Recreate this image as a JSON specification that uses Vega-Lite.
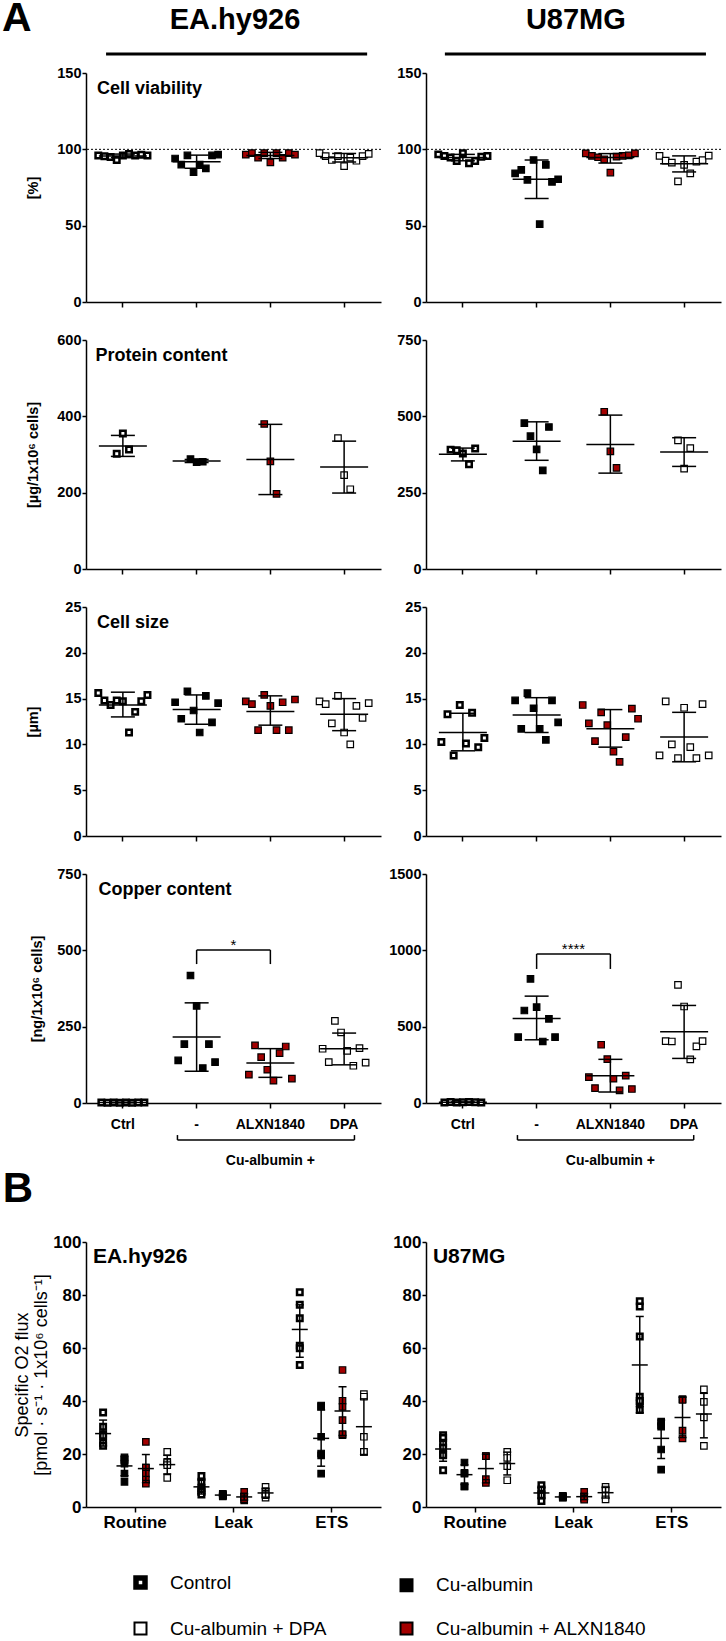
{
"$schema": "https://vega.github.io/schema/vega-lite/v6.json",
"padding": {"left": 2, "top": -2, "right": 1, "bottom": 0},
"bounds": "flush",
"columns": 2,
"spacing": {"row": 38, "column": 45},
"resolve": {"scale": {"fill": "independent"}, "legend": {"fill": "independent"}},
"datasets": {
"A": [
{"c":"EA","p":"via","t":"Ctrl","v":96},{"c":"EA","p":"via","t":"Ctrl","v":95.5},{"c":"EA","p":"via","t":"Ctrl","v":95},{"c":"EA","p":"via","t":"Ctrl","v":93},{"c":"EA","p":"via","t":"Ctrl","v":96},{"c":"EA","p":"via","t":"Ctrl","v":97},{"c":"EA","p":"via","t":"Ctrl","v":96},{"c":"EA","p":"via","t":"Ctrl","v":96.5},{"c":"EA","p":"via","t":"Ctrl","v":96},
{"c":"EA","p":"via","t":"Cu","v":94},{"c":"EA","p":"via","t":"Cu","v":90},{"c":"EA","p":"via","t":"Cu","v":96},{"c":"EA","p":"via","t":"Cu","v":85},{"c":"EA","p":"via","t":"Cu","v":90},{"c":"EA","p":"via","t":"Cu","v":87.5},{"c":"EA","p":"via","t":"Cu","v":96},{"c":"EA","p":"via","t":"Cu","v":96.5},
{"c":"EA","p":"via","t":"ALXN","v":96.5},{"c":"EA","p":"via","t":"ALXN","v":97.5},{"c":"EA","p":"via","t":"ALXN","v":94.5},{"c":"EA","p":"via","t":"ALXN","v":97.5},{"c":"EA","p":"via","t":"ALXN","v":91.5},{"c":"EA","p":"via","t":"ALXN","v":97.5},{"c":"EA","p":"via","t":"ALXN","v":94.5},{"c":"EA","p":"via","t":"ALXN","v":97.5},{"c":"EA","p":"via","t":"ALXN","v":96.5},
{"c":"EA","p":"via","t":"DPA","v":97.5},{"c":"EA","p":"via","t":"DPA","v":95.5},{"c":"EA","p":"via","t":"DPA","v":93},{"c":"EA","p":"via","t":"DPA","v":95.5},{"c":"EA","p":"via","t":"DPA","v":89},{"c":"EA","p":"via","t":"DPA","v":94.5},{"c":"EA","p":"via","t":"DPA","v":92.5},{"c":"EA","p":"via","t":"DPA","v":95.5},{"c":"EA","p":"via","t":"DPA","v":97},
{"c":"U87","p":"via","t":"Ctrl","v":96.7},{"c":"U87","p":"via","t":"Ctrl","v":95.7},{"c":"U87","p":"via","t":"Ctrl","v":94.6},{"c":"U87","p":"via","t":"Ctrl","v":92.4},{"c":"U87","p":"via","t":"Ctrl","v":97.4},{"c":"U87","p":"via","t":"Ctrl","v":90.9},{"c":"U87","p":"via","t":"Ctrl","v":92.4},{"c":"U87","p":"via","t":"Ctrl","v":95.2},{"c":"U87","p":"via","t":"Ctrl","v":95.7},
{"c":"U87","p":"via","t":"Cu","v":84.3},{"c":"U87","p":"via","t":"Cu","v":86.5},{"c":"U87","p":"via","t":"Cu","v":80},{"c":"U87","p":"via","t":"Cu","v":93},{"c":"U87","p":"via","t":"Cu","v":51},{"c":"U87","p":"via","t":"Cu","v":89.8},{"c":"U87","p":"via","t":"Cu","v":78.7},{"c":"U87","p":"via","t":"Cu","v":80.4},
{"c":"U87","p":"via","t":"ALXN","v":97.4},{"c":"U87","p":"via","t":"ALXN","v":95.7},{"c":"U87","p":"via","t":"ALXN","v":94.8},{"c":"U87","p":"via","t":"ALXN","v":93.5},{"c":"U87","p":"via","t":"ALXN","v":84.8},{"c":"U87","p":"via","t":"ALXN","v":95.2},{"c":"U87","p":"via","t":"ALXN","v":95.7},{"c":"U87","p":"via","t":"ALXN","v":96},{"c":"U87","p":"via","t":"ALXN","v":97.4},
{"c":"U87","p":"via","t":"DPA","v":95.7},{"c":"U87","p":"via","t":"DPA","v":92.6},{"c":"U87","p":"via","t":"DPA","v":91.3},{"c":"U87","p":"via","t":"DPA","v":79},{"c":"U87","p":"via","t":"DPA","v":89.8},{"c":"U87","p":"via","t":"DPA","v":84.3},{"c":"U87","p":"via","t":"DPA","v":92},{"c":"U87","p":"via","t":"DPA","v":93},{"c":"U87","p":"via","t":"DPA","v":95.9},
{"c":"EA","p":"pro","t":"Ctrl","v":302},{"c":"EA","p":"pro","t":"Ctrl","v":355},{"c":"EA","p":"pro","t":"Ctrl","v":313},
{"c":"EA","p":"pro","t":"Cu","v":288},{"c":"EA","p":"pro","t":"Cu","v":280},{"c":"EA","p":"pro","t":"Cu","v":281},
{"c":"EA","p":"pro","t":"ALXN","v":380},{"c":"EA","p":"pro","t":"ALXN","v":282},{"c":"EA","p":"pro","t":"ALXN","v":197},
{"c":"EA","p":"pro","t":"DPA","v":343},{"c":"EA","p":"pro","t":"DPA","v":246},{"c":"EA","p":"pro","t":"DPA","v":209},
{"c":"U87","p":"pro","t":"Ctrl","v":391},{"c":"U87","p":"pro","t":"Ctrl","v":389},{"c":"U87","p":"pro","t":"Ctrl","v":378},{"c":"U87","p":"pro","t":"Ctrl","v":343},{"c":"U87","p":"pro","t":"Ctrl","v":395},
{"c":"U87","p":"pro","t":"Cu","v":478},{"c":"U87","p":"pro","t":"Cu","v":435},{"c":"U87","p":"pro","t":"Cu","v":392},{"c":"U87","p":"pro","t":"Cu","v":323},{"c":"U87","p":"pro","t":"Cu","v":465},
{"c":"U87","p":"pro","t":"ALXN","v":515},{"c":"U87","p":"pro","t":"ALXN","v":385},{"c":"U87","p":"pro","t":"ALXN","v":331},
{"c":"U87","p":"pro","t":"DPA","v":421},{"c":"U87","p":"pro","t":"DPA","v":329},{"c":"U87","p":"pro","t":"DPA","v":396},
{"c":"EA","p":"siz","t":"Ctrl","v":15.6},{"c":"EA","p":"siz","t":"Ctrl","v":14.8},{"c":"EA","p":"siz","t":"Ctrl","v":14.3},{"c":"EA","p":"siz","t":"Ctrl","v":14.8},{"c":"EA","p":"siz","t":"Ctrl","v":14.7},{"c":"EA","p":"siz","t":"Ctrl","v":11.3},{"c":"EA","p":"siz","t":"Ctrl","v":13.55},{"c":"EA","p":"siz","t":"Ctrl","v":14.7},{"c":"EA","p":"siz","t":"Ctrl","v":15.4},
{"c":"EA","p":"siz","t":"Cu","v":14.6},{"c":"EA","p":"siz","t":"Cu","v":12.8},{"c":"EA","p":"siz","t":"Cu","v":15.8},{"c":"EA","p":"siz","t":"Cu","v":13.7},{"c":"EA","p":"siz","t":"Cu","v":11.3},{"c":"EA","p":"siz","t":"Cu","v":15.3},{"c":"EA","p":"siz","t":"Cu","v":12.4},{"c":"EA","p":"siz","t":"Cu","v":14.5},
{"c":"EA","p":"siz","t":"ALXN","v":14.7},{"c":"EA","p":"siz","t":"ALXN","v":14.4},{"c":"EA","p":"siz","t":"ALXN","v":11.55},{"c":"EA","p":"siz","t":"ALXN","v":15.4},{"c":"EA","p":"siz","t":"ALXN","v":14.2},{"c":"EA","p":"siz","t":"ALXN","v":11.55},{"c":"EA","p":"siz","t":"ALXN","v":14.6},{"c":"EA","p":"siz","t":"ALXN","v":11.55},{"c":"EA","p":"siz","t":"ALXN","v":14.9},
{"c":"EA","p":"siz","t":"DPA","v":14.7},{"c":"EA","p":"siz","t":"DPA","v":14.4},{"c":"EA","p":"siz","t":"DPA","v":12.3},{"c":"EA","p":"siz","t":"DPA","v":15.3},{"c":"EA","p":"siz","t":"DPA","v":11.3},{"c":"EA","p":"siz","t":"DPA","v":10},{"c":"EA","p":"siz","t":"DPA","v":14.2},{"c":"EA","p":"siz","t":"DPA","v":12.9},{"c":"EA","p":"siz","t":"DPA","v":14.5},
{"c":"U87","p":"siz","t":"Ctrl","v":10.25},{"c":"U87","p":"siz","t":"Ctrl","v":13.3},{"c":"U87","p":"siz","t":"Ctrl","v":8.8},{"c":"U87","p":"siz","t":"Ctrl","v":14.3},{"c":"U87","p":"siz","t":"Ctrl","v":10.1},{"c":"U87","p":"siz","t":"Ctrl","v":13.45},{"c":"U87","p":"siz","t":"Ctrl","v":9.7},{"c":"U87","p":"siz","t":"Ctrl","v":10.7},
{"c":"U87","p":"siz","t":"Cu","v":14.8},{"c":"U87","p":"siz","t":"Cu","v":11.7},{"c":"U87","p":"siz","t":"Cu","v":15.6},{"c":"U87","p":"siz","t":"Cu","v":13.95},{"c":"U87","p":"siz","t":"Cu","v":11.7},{"c":"U87","p":"siz","t":"Cu","v":10.5},{"c":"U87","p":"siz","t":"Cu","v":14.8},{"c":"U87","p":"siz","t":"Cu","v":12.4},
{"c":"U87","p":"siz","t":"ALXN","v":14.3},{"c":"U87","p":"siz","t":"ALXN","v":12.3},{"c":"U87","p":"siz","t":"ALXN","v":10.35},{"c":"U87","p":"siz","t":"ALXN","v":13.5},{"c":"U87","p":"siz","t":"ALXN","v":12.1},{"c":"U87","p":"siz","t":"ALXN","v":9.2},{"c":"U87","p":"siz","t":"ALXN","v":8.1},{"c":"U87","p":"siz","t":"ALXN","v":10.8},{"c":"U87","p":"siz","t":"ALXN","v":13.9},{"c":"U87","p":"siz","t":"ALXN","v":12.8},
{"c":"U87","p":"siz","t":"DPA","v":8.8},{"c":"U87","p":"siz","t":"DPA","v":14.7},{"c":"U87","p":"siz","t":"DPA","v":10},{"c":"U87","p":"siz","t":"DPA","v":8.5},{"c":"U87","p":"siz","t":"DPA","v":14},{"c":"U87","p":"siz","t":"DPA","v":9.7},{"c":"U87","p":"siz","t":"DPA","v":8.5},{"c":"U87","p":"siz","t":"DPA","v":14.4},{"c":"U87","p":"siz","t":"DPA","v":8.8},
{"c":"EA","p":"cu","t":"Ctrl","v":2},{"c":"EA","p":"cu","t":"Ctrl","v":1},{"c":"EA","p":"cu","t":"Ctrl","v":2},{"c":"EA","p":"cu","t":"Ctrl","v":1},{"c":"EA","p":"cu","t":"Ctrl","v":2},{"c":"EA","p":"cu","t":"Ctrl","v":1},{"c":"EA","p":"cu","t":"Ctrl","v":2},{"c":"EA","p":"cu","t":"Ctrl","v":2},
{"c":"EA","p":"cu","t":"Cu","v":139.5},{"c":"EA","p":"cu","t":"Cu","v":193},{"c":"EA","p":"cu","t":"Cu","v":417.5},{"c":"EA","p":"cu","t":"Cu","v":318},{"c":"EA","p":"cu","t":"Cu","v":114.5},{"c":"EA","p":"cu","t":"Cu","v":193},{"c":"EA","p":"cu","t":"Cu","v":134},
{"c":"EA","p":"cu","t":"ALXN","v":92.7},{"c":"EA","p":"cu","t":"ALXN","v":188.6},{"c":"EA","p":"cu","t":"ALXN","v":150},{"c":"EA","p":"cu","t":"ALXN","v":109},{"c":"EA","p":"cu","t":"ALXN","v":73},{"c":"EA","p":"cu","t":"ALXN","v":163.5},{"c":"EA","p":"cu","t":"ALXN","v":185},{"c":"EA","p":"cu","t":"ALXN","v":79.6},
{"c":"EA","p":"cu","t":"DPA","v":177.7},{"c":"EA","p":"cu","t":"DPA","v":134},{"c":"EA","p":"cu","t":"DPA","v":269},{"c":"EA","p":"cu","t":"DPA","v":231},{"c":"EA","p":"cu","t":"DPA","v":171},{"c":"EA","p":"cu","t":"DPA","v":122},{"c":"EA","p":"cu","t":"DPA","v":180},{"c":"EA","p":"cu","t":"DPA","v":132},
{"c":"U87","p":"cu","t":"Ctrl","v":4},{"c":"U87","p":"cu","t":"Ctrl","v":6},{"c":"U87","p":"cu","t":"Ctrl","v":3},{"c":"U87","p":"cu","t":"Ctrl","v":5},{"c":"U87","p":"cu","t":"Ctrl","v":7},{"c":"U87","p":"cu","t":"Ctrl","v":5},{"c":"U87","p":"cu","t":"Ctrl","v":4},
{"c":"U87","p":"cu","t":"Cu","v":431.7},{"c":"U87","p":"cu","t":"Cu","v":606},{"c":"U87","p":"cu","t":"Cu","v":813},{"c":"U87","p":"cu","t":"Cu","v":628},{"c":"U87","p":"cu","t":"Cu","v":403},{"c":"U87","p":"cu","t":"Cu","v":551.6},{"c":"U87","p":"cu","t":"Cu","v":431.7},
{"c":"U87","p":"cu","t":"ALXN","v":170},{"c":"U87","p":"cu","t":"ALXN","v":98},{"c":"U87","p":"cu","t":"ALXN","v":381.5},{"c":"U87","p":"cu","t":"ALXN","v":287.8},{"c":"U87","p":"cu","t":"ALXN","v":159},{"c":"U87","p":"cu","t":"ALXN","v":82.8},{"c":"U87","p":"cu","t":"ALXN","v":178.8},{"c":"U87","p":"cu","t":"ALXN","v":91.6},
{"c":"U87","p":"cu","t":"DPA","v":405.5},{"c":"U87","p":"cu","t":"DPA","v":403},{"c":"U87","p":"cu","t":"DPA","v":774},{"c":"U87","p":"cu","t":"DPA","v":632},{"c":"U87","p":"cu","t":"DPA","v":285.6},{"c":"U87","p":"cu","t":"DPA","v":370.6},{"c":"U87","p":"cu","t":"DPA","v":405.5}
],
"S": [
{"c":"EA","p":"via","t":"Ctrl","m":95.7,"lo":94.5,"hi":96.9},{"c":"EA","p":"via","t":"Cu","m":91.9,"lo":87.6,"hi":96.2},{"c":"EA","p":"via","t":"ALXN","m":96,"lo":94,"hi":98},{"c":"EA","p":"via","t":"DPA","m":94.5,"lo":91.7,"hi":97.3},
{"c":"U87","p":"via","t":"Ctrl","m":94.6,"lo":92.5,"hi":96.7},{"c":"U87","p":"via","t":"Cu","m":80.4,"lo":67.8,"hi":93},{"c":"U87","p":"via","t":"ALXN","m":94.6,"lo":91,"hi":97.2},{"c":"U87","p":"via","t":"DPA","m":90.6,"lo":85.2,"hi":95.7},
{"c":"EA","p":"pro","t":"Ctrl","m":322,"lo":295,"hi":350},{"c":"EA","p":"pro","t":"Cu","m":283,"lo":279,"hi":287},{"c":"EA","p":"pro","t":"ALXN","m":287,"lo":195,"hi":379},{"c":"EA","p":"pro","t":"DPA","m":267,"lo":199,"hi":335},
{"c":"U87","p":"pro","t":"Ctrl","m":376,"lo":354,"hi":396},{"c":"U87","p":"pro","t":"Cu","m":418,"lo":356,"hi":482},{"c":"U87","p":"pro","t":"ALXN","m":408,"lo":314,"hi":504},{"c":"U87","p":"pro","t":"DPA","m":383,"lo":336,"hi":430},
{"c":"EA","p":"siz","t":"Ctrl","m":14.3,"lo":13,"hi":15.7},{"c":"EA","p":"siz","t":"Cu","m":13.8,"lo":12.2,"hi":15.4},{"c":"EA","p":"siz","t":"ALXN","m":13.6,"lo":12.1,"hi":15.3},{"c":"EA","p":"siz","t":"DPA","m":13.3,"lo":11.5,"hi":15},
{"c":"U87","p":"siz","t":"Ctrl","m":11.3,"lo":9.3,"hi":13.4},{"c":"U87","p":"siz","t":"Cu","m":13.2,"lo":11.3,"hi":15.1},{"c":"U87","p":"siz","t":"ALXN","m":11.7,"lo":9.7,"hi":13.8},{"c":"U87","p":"siz","t":"DPA","m":10.8,"lo":8.1,"hi":13.5},
{"c":"EA","p":"cu","t":"Ctrl","m":1.6,"lo":1.1,"hi":2.1},{"c":"EA","p":"cu","t":"Cu","m":216,"lo":104,"hi":328},{"c":"EA","p":"cu","t":"ALXN","m":131,"lo":84,"hi":178},{"c":"EA","p":"cu","t":"DPA","m":178,"lo":125,"hi":229},
{"c":"U87","p":"cu","t":"Ctrl","m":5,"lo":3.6,"hi":6.4},{"c":"U87","p":"cu","t":"Cu","m":554,"lo":414,"hi":700},{"c":"U87","p":"cu","t":"ALXN","m":179,"lo":72,"hi":286},{"c":"U87","p":"cu","t":"DPA","m":467,"lo":292,"hi":639}
],
"B": [
{"c":"EA","ph":"Routine","t":"Ctrl","v":35.7},{"c":"EA","ph":"Routine","t":"Ctrl","v":30.3},{"c":"EA","ph":"Routine","t":"Ctrl","v":27.5},{"c":"EA","ph":"Routine","t":"Ctrl","v":26.9},{"c":"EA","ph":"Routine","t":"Ctrl","v":24.3},{"c":"EA","ph":"Routine","t":"Ctrl","v":23.1},
{"c":"EA","ph":"Routine","t":"Cu","v":18.7},{"c":"EA","ph":"Routine","t":"Cu","v":17.9},{"c":"EA","ph":"Routine","t":"Cu","v":17.5},{"c":"EA","ph":"Routine","t":"Cu","v":16.4},{"c":"EA","ph":"Routine","t":"Cu","v":12.6},{"c":"EA","ph":"Routine","t":"Cu","v":9.5},
{"c":"EA","ph":"Routine","t":"ALXN","v":24.6},{"c":"EA","ph":"Routine","t":"ALXN","v":14.9},{"c":"EA","ph":"Routine","t":"ALXN","v":14.9},{"c":"EA","ph":"Routine","t":"ALXN","v":12.6},{"c":"EA","ph":"Routine","t":"ALXN","v":10.3},{"c":"EA","ph":"Routine","t":"ALXN","v":8.8},
{"c":"EA","ph":"Routine","t":"DPA","v":20.8},{"c":"EA","ph":"Routine","t":"DPA","v":17},{"c":"EA","ph":"Routine","t":"DPA","v":16.6},{"c":"EA","ph":"Routine","t":"DPA","v":15.8},{"c":"EA","ph":"Routine","t":"DPA","v":11},
{"c":"EA","ph":"Leak","t":"Ctrl","v":11.7},{"c":"EA","ph":"Leak","t":"Ctrl","v":9.5},{"c":"EA","ph":"Leak","t":"Ctrl","v":7.3},{"c":"EA","ph":"Leak","t":"Ctrl","v":6.3},{"c":"EA","ph":"Leak","t":"Ctrl","v":5.7},{"c":"EA","ph":"Leak","t":"Ctrl","v":4.7},
{"c":"EA","ph":"Leak","t":"Cu","v":5},{"c":"EA","ph":"Leak","t":"Cu","v":4.5},{"c":"EA","ph":"Leak","t":"Cu","v":4.3},{"c":"EA","ph":"Leak","t":"Cu","v":4},{"c":"EA","ph":"Leak","t":"Cu","v":4.2},{"c":"EA","ph":"Leak","t":"Cu","v":4.8},
{"c":"EA","ph":"Leak","t":"ALXN","v":5.7},{"c":"EA","ph":"Leak","t":"ALXN","v":3.8},{"c":"EA","ph":"Leak","t":"ALXN","v":4},{"c":"EA","ph":"Leak","t":"ALXN","v":2.5},{"c":"EA","ph":"Leak","t":"ALXN","v":3},
{"c":"EA","ph":"Leak","t":"DPA","v":7.6},{"c":"EA","ph":"Leak","t":"DPA","v":6},{"c":"EA","ph":"Leak","t":"DPA","v":5},{"c":"EA","ph":"Leak","t":"DPA","v":3.5},{"c":"EA","ph":"Leak","t":"DPA","v":4.5},
{"c":"EA","ph":"ETS","t":"Ctrl","v":81},{"c":"EA","ph":"ETS","t":"Ctrl","v":76.3},{"c":"EA","ph":"ETS","t":"Ctrl","v":71.2},{"c":"EA","ph":"ETS","t":"Ctrl","v":60.9},{"c":"EA","ph":"ETS","t":"Ctrl","v":59.9},{"c":"EA","ph":"ETS","t":"Ctrl","v":53.6},
{"c":"EA","ph":"ETS","t":"Cu","v":38.3},{"c":"EA","ph":"ETS","t":"Cu","v":38},{"c":"EA","ph":"ETS","t":"Cu","v":26.5},{"c":"EA","ph":"ETS","t":"Cu","v":20.2},{"c":"EA","ph":"ETS","t":"Cu","v":19.5},{"c":"EA","ph":"ETS","t":"Cu","v":12.6},
{"c":"EA","ph":"ETS","t":"ALXN","v":51.7},{"c":"EA","ph":"ETS","t":"ALXN","v":40.1},{"c":"EA","ph":"ETS","t":"ALXN","v":37.8},{"c":"EA","ph":"ETS","t":"ALXN","v":32.8},{"c":"EA","ph":"ETS","t":"ALXN","v":27.1},{"c":"EA","ph":"ETS","t":"ALXN","v":27.5},
{"c":"EA","ph":"ETS","t":"DPA","v":42.6},{"c":"EA","ph":"ETS","t":"DPA","v":41.6},{"c":"EA","ph":"ETS","t":"DPA","v":26.5},{"c":"EA","ph":"ETS","t":"DPA","v":20.8},{"c":"EA","ph":"ETS","t":"DPA","v":20.8},
{"c":"U87","ph":"Routine","t":"Ctrl","v":27.1},{"c":"U87","ph":"Routine","t":"Ctrl","v":26},{"c":"U87","ph":"Routine","t":"Ctrl","v":24},{"c":"U87","ph":"Routine","t":"Ctrl","v":22.4},{"c":"U87","ph":"Routine","t":"Ctrl","v":19.8},{"c":"U87","ph":"Routine","t":"Ctrl","v":19.5},{"c":"U87","ph":"Routine","t":"Ctrl","v":13.9},
{"c":"U87","ph":"Routine","t":"Cu","v":16.8},{"c":"U87","ph":"Routine","t":"Cu","v":12.9},{"c":"U87","ph":"Routine","t":"Cu","v":12.6},{"c":"U87","ph":"Routine","t":"Cu","v":7.8},{"c":"U87","ph":"Routine","t":"Cu","v":7.8},
{"c":"U87","ph":"Routine","t":"ALXN","v":19.2},{"c":"U87","ph":"Routine","t":"ALXN","v":19.2},{"c":"U87","ph":"Routine","t":"ALXN","v":10.5},{"c":"U87","ph":"Routine","t":"ALXN","v":9.1},
{"c":"U87","ph":"Routine","t":"DPA","v":20.8},{"c":"U87","ph":"Routine","t":"DPA","v":18.5},{"c":"U87","ph":"Routine","t":"DPA","v":15.4},{"c":"U87","ph":"Routine","t":"DPA","v":10.1},
{"c":"U87","ph":"Leak","t":"Ctrl","v":8.2},{"c":"U87","ph":"Leak","t":"Ctrl","v":6.6},{"c":"U87","ph":"Leak","t":"Ctrl","v":5},{"c":"U87","ph":"Leak","t":"Ctrl","v":4.4},{"c":"U87","ph":"Leak","t":"Ctrl","v":2.3},
{"c":"U87","ph":"Leak","t":"Cu","v":4},{"c":"U87","ph":"Leak","t":"Cu","v":3.8},{"c":"U87","ph":"Leak","t":"Cu","v":3.5},{"c":"U87","ph":"Leak","t":"Cu","v":3.6},{"c":"U87","ph":"Leak","t":"Cu","v":4.2},
{"c":"U87","ph":"Leak","t":"ALXN","v":5.7},{"c":"U87","ph":"Leak","t":"ALXN","v":4},{"c":"U87","ph":"Leak","t":"ALXN","v":3.2},{"c":"U87","ph":"Leak","t":"ALXN","v":2.8},
{"c":"U87","ph":"Leak","t":"DPA","v":7.6},{"c":"U87","ph":"Leak","t":"DPA","v":6.6},{"c":"U87","ph":"Leak","t":"DPA","v":4.4},{"c":"U87","ph":"Leak","t":"DPA","v":2.9},
{"c":"U87","ph":"ETS","t":"Ctrl","v":77.6},{"c":"U87","ph":"ETS","t":"Ctrl","v":75.7},{"c":"U87","ph":"ETS","t":"Ctrl","v":64.3},{"c":"U87","ph":"ETS","t":"Ctrl","v":41.6},{"c":"U87","ph":"ETS","t":"Ctrl","v":36.6},{"c":"U87","ph":"ETS","t":"Ctrl","v":39.1},{"c":"U87","ph":"ETS","t":"Ctrl","v":40},
{"c":"U87","ph":"ETS","t":"Cu","v":32.2},{"c":"U87","ph":"ETS","t":"Cu","v":30.9},{"c":"U87","ph":"ETS","t":"Cu","v":30.3},{"c":"U87","ph":"ETS","t":"Cu","v":21.7},{"c":"U87","ph":"ETS","t":"Cu","v":14.1},
{"c":"U87","ph":"ETS","t":"ALXN","v":40.7},{"c":"U87","ph":"ETS","t":"ALXN","v":40.4},{"c":"U87","ph":"ETS","t":"ALXN","v":28.8},{"c":"U87","ph":"ETS","t":"ALXN","v":25.9},
{"c":"U87","ph":"ETS","t":"DPA","v":44.4},{"c":"U87","ph":"ETS","t":"DPA","v":39.7},{"c":"U87","ph":"ETS","t":"DPA","v":33.8},{"c":"U87","ph":"ETS","t":"DPA","v":23.1}
],
"BS": [
{"c":"EA","ph":"Routine","t":"Ctrl","m":27.7,"lo":23,"hi":32.8},{"c":"EA","ph":"Routine","t":"Cu","m":15.5,"lo":11.8,"hi":19.2},{"c":"EA","ph":"Routine","t":"ALXN","m":14.5,"lo":9.2,"hi":19.8},{"c":"EA","ph":"Routine","t":"DPA","m":16,"lo":12.5,"hi":19.5},
{"c":"EA","ph":"Leak","t":"Ctrl","m":7.6,"lo":4.9,"hi":10.1},{"c":"EA","ph":"Leak","t":"Cu","m":4.5,"lo":4.1,"hi":4.9},{"c":"EA","ph":"Leak","t":"ALXN","m":3.8,"lo":2.6,"hi":5},{"c":"EA","ph":"Leak","t":"DPA","m":5.3,"lo":3.7,"hi":6.9},
{"c":"EA","ph":"ETS","t":"Ctrl","m":67,"lo":56.5,"hi":76.3},{"c":"EA","ph":"ETS","t":"Cu","m":25.9,"lo":15.4,"hi":36.6},{"c":"EA","ph":"ETS","t":"ALXN","m":36.2,"lo":27,"hi":45.4},{"c":"EA","ph":"ETS","t":"DPA","m":30.3,"lo":19.8,"hi":40.8},
{"c":"U87","ph":"Routine","t":"Ctrl","m":21.9,"lo":17.3,"hi":25.5},{"c":"U87","ph":"Routine","t":"Cu","m":12.2,"lo":8.5,"hi":15.9},{"c":"U87","ph":"Routine","t":"ALXN","m":14.5,"lo":9.1,"hi":19.9},{"c":"U87","ph":"Routine","t":"DPA","m":16.4,"lo":12.1,"hi":20.7},
{"c":"U87","ph":"Leak","t":"Ctrl","m":5.3,"lo":3.2,"hi":7.4},{"c":"U87","ph":"Leak","t":"Cu","m":3.8,"lo":3.5,"hi":4.1},{"c":"U87","ph":"Leak","t":"ALXN","m":3.9,"lo":2.8,"hi":5},{"c":"U87","ph":"Leak","t":"DPA","m":5.4,"lo":3.4,"hi":7.4},
{"c":"U87","ph":"ETS","t":"Ctrl","m":53.6,"lo":35.6,"hi":71.9},{"c":"U87","ph":"ETS","t":"Cu","m":25.9,"lo":18.3,"hi":32.8},{"c":"U87","ph":"ETS","t":"ALXN","m":33.8,"lo":26.2,"hi":41.4},{"c":"U87","ph":"ETS","t":"DPA","m":35.1,"lo":26.1,"hi":42.9}
]
},
"concat": [
  {"width": 295, "height": 35, "data": {"values": [{}]},
   "layer": [
    {"mark": {"type": "text", "align": "left", "baseline": "alphabetic", "fontSize": 41, "fontWeight": "bold"}, "encoding": {"x": {"datum": -0.2847, "type": "quantitative", "scale": {"domain": [0, 1]}, "axis": null}, "y": {"datum": 0.114, "type": "quantitative", "scale": {"domain": [0, 1]}, "axis": null}, "text": {"value": "A"}}},
    {"mark": {"type": "text", "align": "center", "baseline": "alphabetic", "fontSize": 29, "fontWeight": "bold"}, "encoding": {"x": {"datum": 0.505, "type": "quantitative", "scale": {"domain": [0, 1]}, "axis": null}, "y": {"datum": 0.171, "type": "quantitative", "scale": {"domain": [0, 1]}, "axis": null}, "text": {"value": "EA.hy926"}}},
    {"mark": {"type": "rule", "strokeWidth": 3, "color": "black"}, "encoding": {"x": {"datum": 0.068, "type": "quantitative", "scale": {"domain": [0, 1]}, "axis": null}, "x2": {"datum": 0.953}, "y": {"datum": -0.543, "type": "quantitative", "scale": {"domain": [0, 1]}, "axis": null}}}
   ]},
  {"width": 295, "height": 35, "data": {"values": [{}]},
   "layer": [
    {"mark": {"type": "text", "align": "center", "baseline": "alphabetic", "fontSize": 29, "fontWeight": "bold"}, "encoding": {"x": {"datum": 0.508, "type": "quantitative", "scale": {"domain": [0, 1]}, "axis": null}, "y": {"datum": 0.171, "type": "quantitative", "scale": {"domain": [0, 1]}, "axis": null}, "text": {"value": "U87MG"}}},
    {"mark": {"type": "rule", "strokeWidth": 3, "color": "black"}, "encoding": {"x": {"datum": 0.064, "type": "quantitative", "scale": {"domain": [0, 1]}, "axis": null}, "x2": {"datum": 0.949}, "y": {"datum": -0.543, "type": "quantitative", "scale": {"domain": [0, 1]}, "axis": null}}}
   ]},
  {"width": 295, "height": 229, "layer": [
   {"data": {"name": "A"}, "transform": [{"filter": "datum.c === 'EA' && datum.p === 'via'"}, {"window": [{"op": "row_number", "as": "rk"}], "groupby": ["t"]}, {"joinaggregate": [{"op": "count", "as": "n"}], "groupby": ["t"]}, {"calculate": "datum.rk - (datum.n + 1) / 2", "as": "off"}],
    "mark": {"type": "square", "stroke": "black", "opacity": 1},
    "encoding": {
     "x": {"field": "t", "type": "nominal", "scale": {"type": "band", "domain": ["Ctrl", "Cu", "ALXN", "DPA"], "paddingInner": 0, "paddingOuter": 0}, "axis": {"title": null, "labels": false}},
     "xOffset": {"field": "off", "type": "quantitative", "scale": {"domain": [-6, 6], "nice": false, "zero": false}},
     "y": {"field": "v", "type": "quantitative", "scale": {"domain": [0, 150], "nice": false}, "axis": {"values": [0, 50, 100, 150], "title": "[%]", "titlePadding": 16}},
     "fill": {"field": "t", "type": "nominal", "scale": {"domain": ["Ctrl", "Cu", "ALXN", "DPA"], "range": ["#ffffff", "#000000", "#a30000", "#ffffff"]}, "legend": null},
     "size": {"condition": {"test": "datum.t === 'Ctrl'", "value": 30}, "value": 42},
     "strokeWidth": {"condition": {"test": "datum.t === 'Ctrl'", "value": 2.5}, "value": 1.2}}},
   {"data": {"values": [{}]}, "mark": {"type": "rule", "strokeDash": [2, 2], "strokeWidth": 1, "color": "black"}, "encoding": {"y": {"datum": 100}}},
   {"data": {"name": "S"}, "transform": [{"filter": "datum.c === 'EA' && datum.p === 'via'"}], "encoding": {"x": {"field": "t", "type": "nominal", "title": null}},
    "layer": [
     {"mark": {"type": "tick", "size": 48, "thickness": 1.5, "color": "black", "opacity": 1}, "encoding": {"y": {"field": "m", "type": "quantitative", "title": "[%]"}}},
     {"mark": {"type": "tick", "size": 24, "thickness": 1.5, "color": "black", "opacity": 1}, "encoding": {"y": {"field": "lo", "type": "quantitative", "title": "[%]"}}},
     {"mark": {"type": "tick", "size": 24, "thickness": 1.5, "color": "black", "opacity": 1}, "encoding": {"y": {"field": "hi", "type": "quantitative", "title": "[%]"}}},
     {"mark": {"type": "rule", "strokeWidth": 1.5, "color": "black"}, "encoding": {"y": {"field": "lo", "type": "quantitative", "title": "[%]"}, "y2": {"field": "hi"}}}
    ]},
   {"data": {"values": [{}]}, "mark": {"type": "text", "align": "left", "baseline": "alphabetic", "fontSize": 18, "fontWeight": "bold"}, "encoding": {"x": {"datum": "Ctrl", "bandPosition": 0.15}, "y": {"datum": 136.2}, "text": {"value": "Cell viability"}}}
  ]},
  {"width": 295, "height": 229, "layer": [
   {"data": {"name": "A"}, "transform": [{"filter": "datum.c === 'U87' && datum.p === 'via'"}, {"window": [{"op": "row_number", "as": "rk"}], "groupby": ["t"]}, {"joinaggregate": [{"op": "count", "as": "n"}], "groupby": ["t"]}, {"calculate": "datum.rk - (datum.n + 1) / 2", "as": "off"}],
    "mark": {"type": "square", "stroke": "black", "opacity": 1},
    "encoding": {
     "x": {"field": "t", "type": "nominal", "scale": {"type": "band", "domain": ["Ctrl", "Cu", "ALXN", "DPA"], "paddingInner": 0, "paddingOuter": 0}, "axis": {"title": null, "labels": false}},
     "xOffset": {"field": "off", "type": "quantitative", "scale": {"domain": [-6, 6], "nice": false, "zero": false}},
     "y": {"field": "v", "type": "quantitative", "scale": {"domain": [0, 150], "nice": false}, "axis": {"values": [0, 50, 100, 150], "title": null}},
     "fill": {"field": "t", "type": "nominal", "scale": {"domain": ["Ctrl", "Cu", "ALXN", "DPA"], "range": ["#ffffff", "#000000", "#a30000", "#ffffff"]}, "legend": null},
     "size": {"condition": {"test": "datum.t === 'Ctrl'", "value": 30}, "value": 42},
     "strokeWidth": {"condition": {"test": "datum.t === 'Ctrl'", "value": 2.5}, "value": 1.2}}},
   {"data": {"values": [{}]}, "mark": {"type": "rule", "strokeDash": [2, 2], "strokeWidth": 1, "color": "black"}, "encoding": {"y": {"datum": 100}}},
   {"data": {"name": "S"}, "transform": [{"filter": "datum.c === 'U87' && datum.p === 'via'"}], "encoding": {"x": {"field": "t", "type": "nominal", "title": null}},
    "layer": [
     {"mark": {"type": "tick", "size": 48, "thickness": 1.5, "color": "black", "opacity": 1}, "encoding": {"y": {"field": "m", "type": "quantitative", "title": null}}},
     {"mark": {"type": "tick", "size": 24, "thickness": 1.5, "color": "black", "opacity": 1}, "encoding": {"y": {"field": "lo", "type": "quantitative", "title": null}}},
     {"mark": {"type": "tick", "size": 24, "thickness": 1.5, "color": "black", "opacity": 1}, "encoding": {"y": {"field": "hi", "type": "quantitative", "title": null}}},
     {"mark": {"type": "rule", "strokeWidth": 1.5, "color": "black"}, "encoding": {"y": {"field": "lo", "type": "quantitative", "title": null}, "y2": {"field": "hi"}}}
    ]}
  ]},
  {"width": 295, "height": 229, "layer": [
   {"data": {"name": "A"}, "transform": [{"filter": "datum.c === 'EA' && datum.p === 'pro'"}, {"window": [{"op": "row_number", "as": "rk"}], "groupby": ["t"]}, {"joinaggregate": [{"op": "count", "as": "n"}], "groupby": ["t"]}, {"calculate": "datum.rk - (datum.n + 1) / 2", "as": "off"}],
    "mark": {"type": "square", "stroke": "black", "opacity": 1},
    "encoding": {
     "x": {"field": "t", "type": "nominal", "scale": {"type": "band", "domain": ["Ctrl", "Cu", "ALXN", "DPA"], "paddingInner": 0, "paddingOuter": 0}, "axis": {"title": null, "labels": false}},
     "xOffset": {"field": "off", "type": "quantitative", "scale": {"domain": [-6, 6], "nice": false, "zero": false}},
     "y": {"field": "v", "type": "quantitative", "scale": {"domain": [0, 600], "nice": false}, "axis": {"values": [0, 200, 400, 600], "title": "[µg/1x10⁶ cells]", "titlePadding": 16}},
     "fill": {"field": "t", "type": "nominal", "scale": {"domain": ["Ctrl", "Cu", "ALXN", "DPA"], "range": ["#ffffff", "#000000", "#a30000", "#ffffff"]}, "legend": null},
     "size": {"condition": {"test": "datum.t === 'Ctrl'", "value": 30}, "value": 42},
     "strokeWidth": {"condition": {"test": "datum.t === 'Ctrl'", "value": 2.5}, "value": 1.2}}},
   {"data": {"name": "S"}, "transform": [{"filter": "datum.c === 'EA' && datum.p === 'pro'"}], "encoding": {"x": {"field": "t", "type": "nominal", "title": null}},
    "layer": [
     {"mark": {"type": "tick", "size": 48, "thickness": 1.5, "color": "black", "opacity": 1}, "encoding": {"y": {"field": "m", "type": "quantitative", "title": "[µg/1x10⁶ cells]"}}},
     {"mark": {"type": "tick", "size": 24, "thickness": 1.5, "color": "black", "opacity": 1}, "encoding": {"y": {"field": "lo", "type": "quantitative", "title": "[µg/1x10⁶ cells]"}}},
     {"mark": {"type": "tick", "size": 24, "thickness": 1.5, "color": "black", "opacity": 1}, "encoding": {"y": {"field": "hi", "type": "quantitative", "title": "[µg/1x10⁶ cells]"}}},
     {"mark": {"type": "rule", "strokeWidth": 1.5, "color": "black"}, "encoding": {"y": {"field": "lo", "type": "quantitative", "title": "[µg/1x10⁶ cells]"}, "y2": {"field": "hi"}}}
    ]},
   {"data": {"values": [{}]}, "mark": {"type": "text", "align": "left", "baseline": "alphabetic", "fontSize": 18, "fontWeight": "bold"}, "encoding": {"x": {"datum": "Ctrl", "bandPosition": 0.13}, "y": {"datum": 545}, "text": {"value": "Protein content"}}}
  ]},
  {"width": 295, "height": 229, "layer": [
   {"data": {"name": "A"}, "transform": [{"filter": "datum.c === 'U87' && datum.p === 'pro'"}, {"window": [{"op": "row_number", "as": "rk"}], "groupby": ["t"]}, {"joinaggregate": [{"op": "count", "as": "n"}], "groupby": ["t"]}, {"calculate": "datum.rk - (datum.n + 1) / 2", "as": "off"}],
    "mark": {"type": "square", "stroke": "black", "opacity": 1},
    "encoding": {
     "x": {"field": "t", "type": "nominal", "scale": {"type": "band", "domain": ["Ctrl", "Cu", "ALXN", "DPA"], "paddingInner": 0, "paddingOuter": 0}, "axis": {"title": null, "labels": false}},
     "xOffset": {"field": "off", "type": "quantitative", "scale": {"domain": [-6, 6], "nice": false, "zero": false}},
     "y": {"field": "v", "type": "quantitative", "scale": {"domain": [0, 750], "nice": false}, "axis": {"values": [0, 250, 500, 750], "title": null}},
     "fill": {"field": "t", "type": "nominal", "scale": {"domain": ["Ctrl", "Cu", "ALXN", "DPA"], "range": ["#ffffff", "#000000", "#a30000", "#ffffff"]}, "legend": null},
     "size": {"condition": {"test": "datum.t === 'Ctrl'", "value": 30}, "value": 42},
     "strokeWidth": {"condition": {"test": "datum.t === 'Ctrl'", "value": 2.5}, "value": 1.2}}},
   {"data": {"name": "S"}, "transform": [{"filter": "datum.c === 'U87' && datum.p === 'pro'"}], "encoding": {"x": {"field": "t", "type": "nominal", "title": null}},
    "layer": [
     {"mark": {"type": "tick", "size": 48, "thickness": 1.5, "color": "black", "opacity": 1}, "encoding": {"y": {"field": "m", "type": "quantitative", "title": null}}},
     {"mark": {"type": "tick", "size": 24, "thickness": 1.5, "color": "black", "opacity": 1}, "encoding": {"y": {"field": "lo", "type": "quantitative", "title": null}}},
     {"mark": {"type": "tick", "size": 24, "thickness": 1.5, "color": "black", "opacity": 1}, "encoding": {"y": {"field": "hi", "type": "quantitative", "title": null}}},
     {"mark": {"type": "rule", "strokeWidth": 1.5, "color": "black"}, "encoding": {"y": {"field": "lo", "type": "quantitative", "title": null}, "y2": {"field": "hi"}}}
    ]}
  ]},
  {"width": 295, "height": 229, "layer": [
   {"data": {"name": "A"}, "transform": [{"filter": "datum.c === 'EA' && datum.p === 'siz'"}, {"window": [{"op": "row_number", "as": "rk"}], "groupby": ["t"]}, {"joinaggregate": [{"op": "count", "as": "n"}], "groupby": ["t"]}, {"calculate": "datum.rk - (datum.n + 1) / 2", "as": "off"}],
    "mark": {"type": "square", "stroke": "black", "opacity": 1},
    "encoding": {
     "x": {"field": "t", "type": "nominal", "scale": {"type": "band", "domain": ["Ctrl", "Cu", "ALXN", "DPA"], "paddingInner": 0, "paddingOuter": 0}, "axis": {"title": null, "labels": false}},
     "xOffset": {"field": "off", "type": "quantitative", "scale": {"domain": [-6, 6], "nice": false, "zero": false}},
     "y": {"field": "v", "type": "quantitative", "scale": {"domain": [0, 25], "nice": false}, "axis": {"values": [0, 5, 10, 15, 20, 25], "title": "[µm]", "titlePadding": 24}},
     "fill": {"field": "t", "type": "nominal", "scale": {"domain": ["Ctrl", "Cu", "ALXN", "DPA"], "range": ["#ffffff", "#000000", "#a30000", "#ffffff"]}, "legend": null},
     "size": {"condition": {"test": "datum.t === 'Ctrl'", "value": 30}, "value": 42},
     "strokeWidth": {"condition": {"test": "datum.t === 'Ctrl'", "value": 2.5}, "value": 1.2}}},
   {"data": {"name": "S"}, "transform": [{"filter": "datum.c === 'EA' && datum.p === 'siz'"}], "encoding": {"x": {"field": "t", "type": "nominal", "title": null}},
    "layer": [
     {"mark": {"type": "tick", "size": 48, "thickness": 1.5, "color": "black", "opacity": 1}, "encoding": {"y": {"field": "m", "type": "quantitative", "title": "[µm]"}}},
     {"mark": {"type": "tick", "size": 24, "thickness": 1.5, "color": "black", "opacity": 1}, "encoding": {"y": {"field": "lo", "type": "quantitative", "title": "[µm]"}}},
     {"mark": {"type": "tick", "size": 24, "thickness": 1.5, "color": "black", "opacity": 1}, "encoding": {"y": {"field": "hi", "type": "quantitative", "title": "[µm]"}}},
     {"mark": {"type": "rule", "strokeWidth": 1.5, "color": "black"}, "encoding": {"y": {"field": "lo", "type": "quantitative", "title": "[µm]"}, "y2": {"field": "hi"}}}
    ]},
   {"data": {"values": [{}]}, "mark": {"type": "text", "align": "left", "baseline": "alphabetic", "fontSize": 18, "fontWeight": "bold"}, "encoding": {"x": {"datum": "Ctrl", "bandPosition": 0.15}, "y": {"datum": 22.7}, "text": {"value": "Cell size"}}}
  ]},
  {"width": 295, "height": 229, "layer": [
   {"data": {"name": "A"}, "transform": [{"filter": "datum.c === 'U87' && datum.p === 'siz'"}, {"window": [{"op": "row_number", "as": "rk"}], "groupby": ["t"]}, {"joinaggregate": [{"op": "count", "as": "n"}], "groupby": ["t"]}, {"calculate": "datum.rk - (datum.n + 1) / 2", "as": "off"}],
    "mark": {"type": "square", "stroke": "black", "opacity": 1},
    "encoding": {
     "x": {"field": "t", "type": "nominal", "scale": {"type": "band", "domain": ["Ctrl", "Cu", "ALXN", "DPA"], "paddingInner": 0, "paddingOuter": 0}, "axis": {"title": null, "labels": false}},
     "xOffset": {"field": "off", "type": "quantitative", "scale": {"domain": [-6, 6], "nice": false, "zero": false}},
     "y": {"field": "v", "type": "quantitative", "scale": {"domain": [0, 25], "nice": false}, "axis": {"values": [0, 5, 10, 15, 20, 25], "title": null}},
     "fill": {"field": "t", "type": "nominal", "scale": {"domain": ["Ctrl", "Cu", "ALXN", "DPA"], "range": ["#ffffff", "#000000", "#a30000", "#ffffff"]}, "legend": null},
     "size": {"condition": {"test": "datum.t === 'Ctrl'", "value": 30}, "value": 42},
     "strokeWidth": {"condition": {"test": "datum.t === 'Ctrl'", "value": 2.5}, "value": 1.2}}},
   {"data": {"name": "S"}, "transform": [{"filter": "datum.c === 'U87' && datum.p === 'siz'"}], "encoding": {"x": {"field": "t", "type": "nominal", "title": null}},
    "layer": [
     {"mark": {"type": "tick", "size": 48, "thickness": 1.5, "color": "black", "opacity": 1}, "encoding": {"y": {"field": "m", "type": "quantitative", "title": null}}},
     {"mark": {"type": "tick", "size": 24, "thickness": 1.5, "color": "black", "opacity": 1}, "encoding": {"y": {"field": "lo", "type": "quantitative", "title": null}}},
     {"mark": {"type": "tick", "size": 24, "thickness": 1.5, "color": "black", "opacity": 1}, "encoding": {"y": {"field": "hi", "type": "quantitative", "title": null}}},
     {"mark": {"type": "rule", "strokeWidth": 1.5, "color": "black"}, "encoding": {"y": {"field": "lo", "type": "quantitative", "title": null}, "y2": {"field": "hi"}}}
    ]}
  ]},
  {"width": 295, "height": 229, "layer": [
   {"data": {"name": "A"}, "transform": [{"filter": "datum.c === 'EA' && datum.p === 'cu'"}, {"window": [{"op": "row_number", "as": "rk"}], "groupby": ["t"]}, {"joinaggregate": [{"op": "count", "as": "n"}], "groupby": ["t"]}, {"calculate": "datum.rk - (datum.n + 1) / 2", "as": "off"}],
    "mark": {"type": "square", "stroke": "black", "opacity": 1},
    "encoding": {
     "x": {"field": "t", "type": "nominal", "scale": {"type": "band", "domain": ["Ctrl", "Cu", "ALXN", "DPA"], "paddingInner": 0, "paddingOuter": 0}, "axis": {"title": null, "labelFontSize": 14, "labelPadding": 9, "labelExpr": "datum.value === 'Ctrl' ? 'Ctrl' : datum.value === 'Cu' ? '-' : datum.value === 'ALXN' ? 'ALXN1840' : 'DPA'"}},
     "xOffset": {"field": "off", "type": "quantitative", "scale": {"domain": [-6, 6], "nice": false, "zero": false}},
     "y": {"field": "v", "type": "quantitative", "scale": {"domain": [0, 750], "nice": false}, "axis": {"values": [0, 250, 500, 750], "title": "[ng/1x10⁶ cells]", "titlePadding": 12}},
     "fill": {"field": "t", "type": "nominal", "scale": {"domain": ["Ctrl", "Cu", "ALXN", "DPA"], "range": ["#ffffff", "#000000", "#a30000", "#ffffff"]}, "legend": null},
     "size": {"condition": {"test": "datum.t === 'Ctrl'", "value": 30}, "value": 42},
     "strokeWidth": {"condition": {"test": "datum.t === 'Ctrl'", "value": 2.5}, "value": 1.2}}},
   {"data": {"name": "S"}, "transform": [{"filter": "datum.c === 'EA' && datum.p === 'cu'"}], "encoding": {"x": {"field": "t", "type": "nominal", "title": null}},
    "layer": [
     {"mark": {"type": "tick", "size": 48, "thickness": 1.5, "color": "black", "opacity": 1}, "encoding": {"y": {"field": "m", "type": "quantitative", "title": "[ng/1x10⁶ cells]"}}},
     {"mark": {"type": "tick", "size": 24, "thickness": 1.5, "color": "black", "opacity": 1}, "encoding": {"y": {"field": "lo", "type": "quantitative", "title": "[ng/1x10⁶ cells]"}}},
     {"mark": {"type": "tick", "size": 24, "thickness": 1.5, "color": "black", "opacity": 1}, "encoding": {"y": {"field": "hi", "type": "quantitative", "title": "[ng/1x10⁶ cells]"}}},
     {"mark": {"type": "rule", "strokeWidth": 1.5, "color": "black"}, "encoding": {"y": {"field": "lo", "type": "quantitative", "title": "[ng/1x10⁶ cells]"}, "y2": {"field": "hi"}}}
    ]},
   {"data": {"values": [{}]}, "layer": [
    {"mark": {"type": "text", "align": "left", "baseline": "alphabetic", "fontSize": 18, "fontWeight": "bold"}, "encoding": {"x": {"datum": "Ctrl", "bandPosition": 0.17}, "y": {"datum": 681}, "text": {"value": "Copper content"}}},
    {"mark": {"type": "rule", "color": "black", "strokeWidth": 1.5}, "encoding": {"x": {"datum": "Cu"}, "x2": {"datum": "ALXN"}, "y": {"datum": 501}}},
    {"mark": {"type": "rule", "color": "black", "strokeWidth": 1.5}, "encoding": {"x": {"datum": "Cu"}, "y": {"datum": 501}, "y2": {"datum": 455}}},
    {"mark": {"type": "rule", "color": "black", "strokeWidth": 1.5}, "encoding": {"x": {"datum": "ALXN"}, "y": {"datum": 501}, "y2": {"datum": 455}}},
    {"mark": {"type": "text", "align": "center", "baseline": "alphabetic", "fontSize": 15}, "encoding": {"x": {"datum": "Cu", "bandPosition": 1}, "y": {"datum": 501}, "text": {"value": "*"}}},
    {"mark": {"type": "rule", "color": "black", "strokeWidth": 1.5}, "encoding": {"x": {"datum": "Cu", "bandPosition": 0.24}, "x2": {"datum": "DPA", "bandPosition": 0.64}, "y": {"datum": -121}}},
    {"mark": {"type": "rule", "color": "black", "strokeWidth": 1.5}, "encoding": {"x": {"datum": "Cu", "bandPosition": 0.24}, "y": {"datum": -121}, "y2": {"datum": -105}}},
    {"mark": {"type": "rule", "color": "black", "strokeWidth": 1.5}, "encoding": {"x": {"datum": "DPA", "bandPosition": 0.64}, "y": {"datum": -121}, "y2": {"datum": -105}}},
    {"mark": {"type": "text", "align": "center", "baseline": "alphabetic", "fontSize": 14, "fontWeight": "bold"}, "encoding": {"x": {"datum": "ALXN", "bandPosition": 0.5}, "y": {"datum": -203}, "text": {"value": "Cu-albumin +"}}}
   ]}
  ]},
  {"width": 295, "height": 229, "layer": [
   {"data": {"name": "A"}, "transform": [{"filter": "datum.c === 'U87' && datum.p === 'cu'"}, {"window": [{"op": "row_number", "as": "rk"}], "groupby": ["t"]}, {"joinaggregate": [{"op": "count", "as": "n"}], "groupby": ["t"]}, {"calculate": "datum.rk - (datum.n + 1) / 2", "as": "off"}],
    "mark": {"type": "square", "stroke": "black", "opacity": 1},
    "encoding": {
     "x": {"field": "t", "type": "nominal", "scale": {"type": "band", "domain": ["Ctrl", "Cu", "ALXN", "DPA"], "paddingInner": 0, "paddingOuter": 0}, "axis": {"title": null, "labelFontSize": 14, "labelPadding": 9, "labelExpr": "datum.value === 'Ctrl' ? 'Ctrl' : datum.value === 'Cu' ? '-' : datum.value === 'ALXN' ? 'ALXN1840' : 'DPA'"}},
     "xOffset": {"field": "off", "type": "quantitative", "scale": {"domain": [-6, 6], "nice": false, "zero": false}},
     "y": {"field": "v", "type": "quantitative", "scale": {"domain": [0, 1500], "nice": false}, "axis": {"values": [0, 500, 1000, 1500], "format": "d", "title": null}},
     "fill": {"field": "t", "type": "nominal", "scale": {"domain": ["Ctrl", "Cu", "ALXN", "DPA"], "range": ["#ffffff", "#000000", "#a30000", "#ffffff"]}, "legend": null},
     "size": {"condition": {"test": "datum.t === 'Ctrl'", "value": 30}, "value": 42},
     "strokeWidth": {"condition": {"test": "datum.t === 'Ctrl'", "value": 2.5}, "value": 1.2}}},
   {"data": {"name": "S"}, "transform": [{"filter": "datum.c === 'U87' && datum.p === 'cu'"}], "encoding": {"x": {"field": "t", "type": "nominal", "title": null}},
    "layer": [
     {"mark": {"type": "tick", "size": 48, "thickness": 1.5, "color": "black", "opacity": 1}, "encoding": {"y": {"field": "m", "type": "quantitative", "title": null}}},
     {"mark": {"type": "tick", "size": 24, "thickness": 1.5, "color": "black", "opacity": 1}, "encoding": {"y": {"field": "lo", "type": "quantitative", "title": null}}},
     {"mark": {"type": "tick", "size": 24, "thickness": 1.5, "color": "black", "opacity": 1}, "encoding": {"y": {"field": "hi", "type": "quantitative", "title": null}}},
     {"mark": {"type": "rule", "strokeWidth": 1.5, "color": "black"}, "encoding": {"y": {"field": "lo", "type": "quantitative", "title": null}, "y2": {"field": "hi"}}}
    ]},
   {"data": {"values": [{}]}, "layer": [
    {"mark": {"type": "rule", "color": "black", "strokeWidth": 1.5}, "encoding": {"x": {"datum": "Cu"}, "x2": {"datum": "ALXN"}, "y": {"datum": 976}}},
    {"mark": {"type": "rule", "color": "black", "strokeWidth": 1.5}, "encoding": {"x": {"datum": "Cu"}, "y": {"datum": 976}, "y2": {"datum": 878}}},
    {"mark": {"type": "rule", "color": "black", "strokeWidth": 1.5}, "encoding": {"x": {"datum": "ALXN"}, "y": {"datum": 976}, "y2": {"datum": 878}}},
    {"mark": {"type": "text", "align": "center", "baseline": "alphabetic", "fontSize": 15}, "encoding": {"x": {"datum": "Cu", "bandPosition": 1}, "y": {"datum": 976}, "text": {"value": "****"}}},
    {"mark": {"type": "rule", "color": "black", "strokeWidth": 1.5}, "encoding": {"x": {"datum": "Cu", "bandPosition": 0.24}, "x2": {"datum": "DPA", "bandPosition": 0.63}, "y": {"datum": -242}}},
    {"mark": {"type": "rule", "color": "black", "strokeWidth": 1.5}, "encoding": {"x": {"datum": "Cu", "bandPosition": 0.24}, "y": {"datum": -242}, "y2": {"datum": -210}}},
    {"mark": {"type": "rule", "color": "black", "strokeWidth": 1.5}, "encoding": {"x": {"datum": "DPA", "bandPosition": 0.63}, "y": {"datum": -242}, "y2": {"datum": -210}}},
    {"mark": {"type": "text", "align": "center", "baseline": "alphabetic", "fontSize": 14, "fontWeight": "bold"}, "encoding": {"x": {"datum": "ALXN", "bandPosition": 0.5}, "y": {"datum": -406}, "text": {"value": "Cu-albumin +"}}}
   ]}
  ]},
  {"width": 295, "height": 63, "data": {"values": [{}]}, "mark": {"type": "text"}, "encoding": {"text": {"value": ""}}},
  {"width": 295, "height": 63, "data": {"values": [{}]}, "mark": {"type": "text"}, "encoding": {"text": {"value": ""}}},
  {"width": 295, "height": 265, "layer": [
   {"data": {"name": "B"}, "transform": [{"filter": "datum.c === 'EA'"}],
    "mark": {"type": "square", "stroke": "black", "opacity": 1},
    "encoding": {
     "x": {"field": "ph", "type": "nominal", "scale": {"type": "band", "domain": ["Routine", "Leak", "ETS"], "paddingInner": 0, "paddingOuter": 0}, "axis": {"title": null, "labelFontSize": 17, "labelPadding": 2}},
     "xOffset": {"field": "t", "type": "nominal", "scale": {"domain": ["Ctrl", "Cu", "ALXN", "DPA"], "paddingInner": 0, "paddingOuter": 0.3}},
     "y": {"field": "v", "type": "quantitative", "scale": {"domain": [0, 100], "nice": false}, "axis": {"values": [0, 20, 40, 60, 80, 100], "labelFontSize": 17, "title": ["Specific O2 flux", "[pmol · s⁻¹ · 1x10⁶ cells⁻¹]"], "titleFontWeight": "normal", "titleFontSize": 18, "titlePadding": 2, "titleLineHeight": 19}},
     "fill": {"field": "t", "type": "nominal", "scale": {"domain": ["Ctrl", "Cu", "ALXN", "DPA"], "range": ["#ffffff", "#000000", "#a30000", "#ffffff"]},
      "legend": {"orient": "none", "legendX": 45, "legendY": 331, "direction": "horizontal", "columns": 2, "columnPadding": 69, "rowPadding": 20, "title": null, "values": ["Ctrl", "Cu", "DPA", "ALXN"], "symbolType": "square", "symbolSize": 144, "symbolStrokeColor": "black", "symbolStrokeWidth": 2, "symbolOpacity": 1, "labelFontSize": 19, "labelFont": "Liberation Sans", "labelFontWeight": "normal", "labelColor": "black", "labelOffset": 20, "labelLimit": 400, "labelExpr": "datum.value === 'Ctrl' ? 'Control' : datum.value === 'Cu' ? 'Cu-albumin' : datum.value === 'DPA' ? 'Cu-albumin + DPA' : 'Cu-albumin + ALXN1840'", "encode": {"symbols": {"update": {"strokeWidth": {"signal": "datum.value === 'Ctrl' ? 5.5 : 2"}, "size": {"signal": "datum.value === 'Ctrl' ? 81 : 144"}}}}}},
     "size": {"condition": {"test": "datum.t === 'Ctrl'", "value": 30}, "value": 42},
     "strokeWidth": {"condition": {"test": "datum.t === 'Ctrl'", "value": 2.5}, "value": 1.2}}},
   {"data": {"name": "BS"}, "transform": [{"filter": "datum.c === 'EA'"}], "encoding": {"x": {"field": "ph", "type": "nominal", "title": null}, "xOffset": {"field": "t", "type": "nominal"}},
    "layer": [
     {"mark": {"type": "tick", "size": 16, "thickness": 1.5, "color": "black", "opacity": 1}, "encoding": {"y": {"field": "m", "type": "quantitative", "title": ["Specific O2 flux", "[pmol · s⁻¹ · 1x10⁶ cells⁻¹]"]}}},
     {"mark": {"type": "tick", "size": 8, "thickness": 1.5, "color": "black", "opacity": 1}, "encoding": {"y": {"field": "lo", "type": "quantitative", "title": ["Specific O2 flux", "[pmol · s⁻¹ · 1x10⁶ cells⁻¹]"]}}},
     {"mark": {"type": "tick", "size": 8, "thickness": 1.5, "color": "black", "opacity": 1}, "encoding": {"y": {"field": "hi", "type": "quantitative", "title": ["Specific O2 flux", "[pmol · s⁻¹ · 1x10⁶ cells⁻¹]"]}}},
     {"mark": {"type": "rule", "strokeWidth": 1.5, "color": "black"}, "encoding": {"y": {"field": "lo", "type": "quantitative", "title": ["Specific O2 flux", "[pmol · s⁻¹ · 1x10⁶ cells⁻¹]"]}, "y2": {"field": "hi"}}}
    ]},
   {"data": {"values": [{}]}, "mark": {"type": "text", "align": "left", "baseline": "alphabetic", "fontSize": 21, "fontWeight": "bold"}, "encoding": {"x": {"datum": "Routine", "bandPosition": 0.07}, "y": {"datum": 92.1}, "text": {"value": "EA.hy926"}}},
   {"data": {"values": [{}]}, "mark": {"type": "text", "align": "left", "baseline": "alphabetic", "fontSize": 42, "fontWeight": "bold"}, "encoding": {"x": {"datum": "Routine", "bandPosition": -0.847}, "y": {"datum": 115.1}, "text": {"value": "B"}}}
  ]},
  {"width": 295, "height": 265, "layer": [
   {"data": {"name": "B"}, "transform": [{"filter": "datum.c === 'U87'"}],
    "mark": {"type": "square", "stroke": "black", "opacity": 1},
    "encoding": {
     "x": {"field": "ph", "type": "nominal", "scale": {"type": "band", "domain": ["Routine", "Leak", "ETS"], "paddingInner": 0, "paddingOuter": 0}, "axis": {"title": null, "labelFontSize": 17, "labelPadding": 2}},
     "xOffset": {"field": "t", "type": "nominal", "scale": {"domain": ["Ctrl", "Cu", "ALXN", "DPA"], "paddingInner": 0, "paddingOuter": 0.3}},
     "y": {"field": "v", "type": "quantitative", "scale": {"domain": [0, 100], "nice": false}, "axis": {"values": [0, 20, 40, 60, 80, 100], "labelFontSize": 17, "title": null}},
     "fill": {"field": "t", "type": "nominal", "scale": {"domain": ["Ctrl", "Cu", "ALXN", "DPA"], "range": ["#ffffff", "#000000", "#a30000", "#ffffff"]}, "legend": null},
     "size": {"condition": {"test": "datum.t === 'Ctrl'", "value": 30}, "value": 42},
     "strokeWidth": {"condition": {"test": "datum.t === 'Ctrl'", "value": 2.5}, "value": 1.2}}},
   {"data": {"name": "BS"}, "transform": [{"filter": "datum.c === 'U87'"}], "encoding": {"x": {"field": "ph", "type": "nominal", "title": null}, "xOffset": {"field": "t", "type": "nominal"}},
    "layer": [
     {"mark": {"type": "tick", "size": 16, "thickness": 1.5, "color": "black", "opacity": 1}, "encoding": {"y": {"field": "m", "type": "quantitative", "title": null}}},
     {"mark": {"type": "tick", "size": 8, "thickness": 1.5, "color": "black", "opacity": 1}, "encoding": {"y": {"field": "lo", "type": "quantitative", "title": null}}},
     {"mark": {"type": "tick", "size": 8, "thickness": 1.5, "color": "black", "opacity": 1}, "encoding": {"y": {"field": "hi", "type": "quantitative", "title": null}}},
     {"mark": {"type": "rule", "strokeWidth": 1.5, "color": "black"}, "encoding": {"y": {"field": "lo", "type": "quantitative", "title": null}, "y2": {"field": "hi"}}}
    ]},
   {"data": {"values": [{}]}, "mark": {"type": "text", "align": "left", "baseline": "alphabetic", "fontSize": 21, "fontWeight": "bold"}, "encoding": {"x": {"datum": "Routine", "bandPosition": 0.07}, "y": {"datum": 92.1}, "text": {"value": "U87MG"}}}
  ]}
],
"config": {
 "font": "Liberation Sans",
 "view": {"stroke": null},
 "axis": {"domainColor": "black", "domainWidth": 1.5, "tickColor": "black", "tickWidth": 1.5, "labelFont": "Liberation Sans", "labelFontWeight": "bold", "labelFontSize": 14.5, "labelColor": "black", "titleFont": "Liberation Sans", "titleFontWeight": "bold", "titleFontSize": 14.5, "titleColor": "black", "grid": false},
 "axisX": {"tickSize": 5, "labelAngle": 0},
 "axisY": {"tickSize": 4, "labelPadding": 1},
 "text": {"color": "black", "font": "Liberation Sans"}
}
}
